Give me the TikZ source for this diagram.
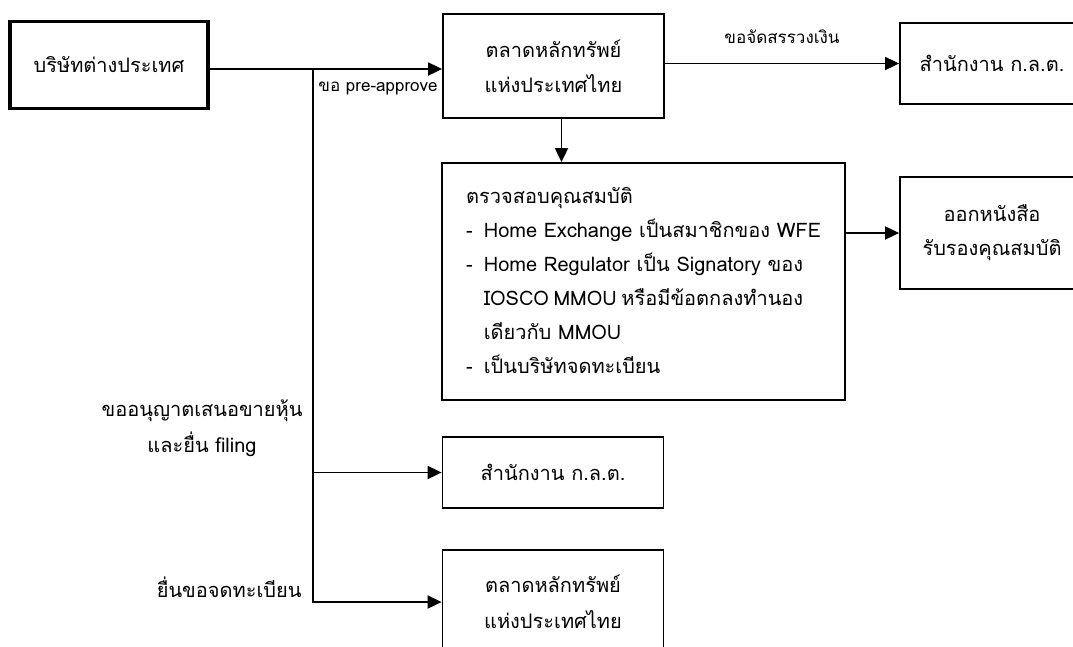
\documentclass[tikz,border=0pt]{standalone}
\usepackage{fontspec}
\setmainfont[Script=Thai]{Loma}
\usetikzlibrary{arrows.meta, positioning}
\newlength\itemw

\begin{document}
\begin{tikzpicture}[x=1pt, y=-1pt, font=\fontsize{20}{34}\selectfont,
            box/.style={draw, rectangle, line width=1.8pt, align=center, inner sep=0pt},
            arr/.style={-{Triangle[length=14pt, width=13pt]}, line width=1.8pt},
            lbl/.style={font=\fontsize{17}{20}\selectfont, inner sep=1pt}]
            \clip (0,0) rectangle (1073,646);
            \useasboundingbox (0,0) rectangle (1073,646);

            \node[box, line width=3.6pt, minimum width=198pt, minimum height=87pt] (company) at (109,65) {บริษัทต่างประเทศ};
            \node[box, minimum width=221pt, minimum height=104pt] (exchange) at (553.5,66) {ตลาดหลักทรัพย์\\[1pt]แห่งประเทศไทย};
            \node[box, minimum width=184pt, minimum height=81pt] (sec) at (992,63.5) {สำนักงาน ก.ล.ต.};
            \node[box, minimum width=403pt, minimum height=237pt] (check) at (643.5,281.5) {%
                \settowidth{\itemw}{Home Regulator เป็น Signatory ของ}%
                \begin{tabular}{@{}l@{\hspace{11pt}}l@{}}
                \multicolumn{2}{@{}l@{}}{ตรวจสอบคุณสมบัติ}\\
                - & Home Exchange เป็นสมาชิกของ WFE\\
                - & Home Regulator เป็น Signatory ของ\\
                  & \makebox[\itemw][s]{IOSCO MMOU หรือมีข้อตกลงทำนอง}\\
                  & เดียวกับ MMOU\\
                - & เป็นบริษัทจดทะเบียน
            \end{tabular}};
            \node[box, minimum width=184pt, minimum height=112pt] (cert) at (992,233) {ออกหนังสือ\\รับรองคุณสมบัติ};
            \node[box, minimum width=221pt, minimum height=71pt] (secb) at (553,472.5) {สำนักงาน ก.ล.ต.};
            \node[box, minimum width=221pt, minimum height=104pt] (exchangeb) at (553,602) {ตลาดหลักทรัพย์\\[2pt]แห่งประเทศไทย};

            \coordinate (split) at (313,69);
            \node[lbl] (prelbl) at (378,88) {ขอ pre-approve};
            \node[anchor=east, align=center] (permitlbl) at (306,428) {ขออนุญาตเสนอขายหุ้น\\[2pt]และยื่น filing};
            \node[anchor=east] (listlbl) at (305,587) {ยื่นขอจดทะเบียน};

            \draw[arr] (company.east |- split) -- (exchange.west |- split);
            \draw[arr] (exchange.east |- sec.west) -- (sec.west) node[lbl, midway, above=18pt] (quotalbl) {ขอจัดสรรวงเงิน};
            \draw[arr] ([xshift=8pt]exchange.south) -- ([xshift=8pt]exchange.south |- check.north);
            \draw[arr] (check.east |- cert.west) -- (cert.west);
            \draw[arr] (split) |- (secb.west);
            \draw[arr] (split) |- (exchangeb.west);
        \end{tikzpicture}
\end{document}
